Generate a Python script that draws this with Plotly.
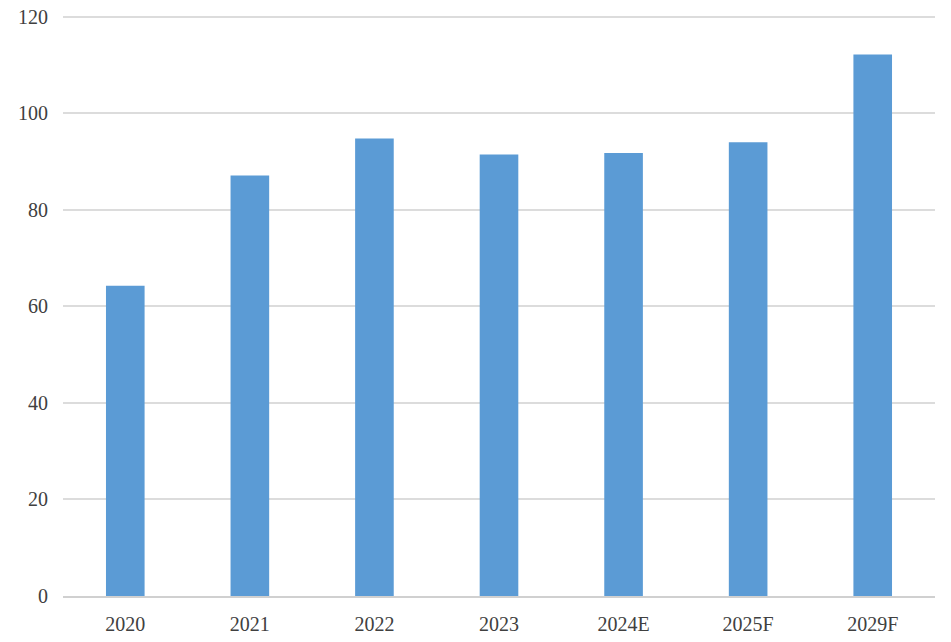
import plotly.graph_objects as go

categories = ["2020", "2021", "2022", "2023", "2024E", "2025F", "2029F"]
values = [64.3, 87.1, 94.8, 91.5, 91.8, 94.0, 112.2]
y_ticks = [0, 20, 40, 60, 80, 100, 120]

fig = go.Figure(go.Bar(x=categories, y=values, marker=dict(color="#5B9BD5", line=dict(width=0)), width=0.31))

font = dict(family="Liberation Serif, Times New Roman, serif", size=20, color="#404040")
fig.update_layout(
    width=951, height=642,
    margin=dict(l=63, r=16, t=12, b=46),
    paper_bgcolor="white", plot_bgcolor="white",
    showlegend=False,
    font=font,
    xaxis=dict(showgrid=False, showline=True, linecolor="#d0d0d0", linewidth=1.5, automargin=False,
               ticks="", tickfont=font, ticklabelstandoff=9),
    yaxis=dict(range=[0, 121], tickvals=y_ticks, showgrid=True, gridcolor="#dcdcdc", gridwidth=1.5,
               automargin=False, zeroline=False, showline=False, ticks="", tickfont=font,
               ticklabelstandoff=14),
)
fig.write_html("out.html", config={"displayModeBar": False},
               post_script="document.body.style.margin='0';")
